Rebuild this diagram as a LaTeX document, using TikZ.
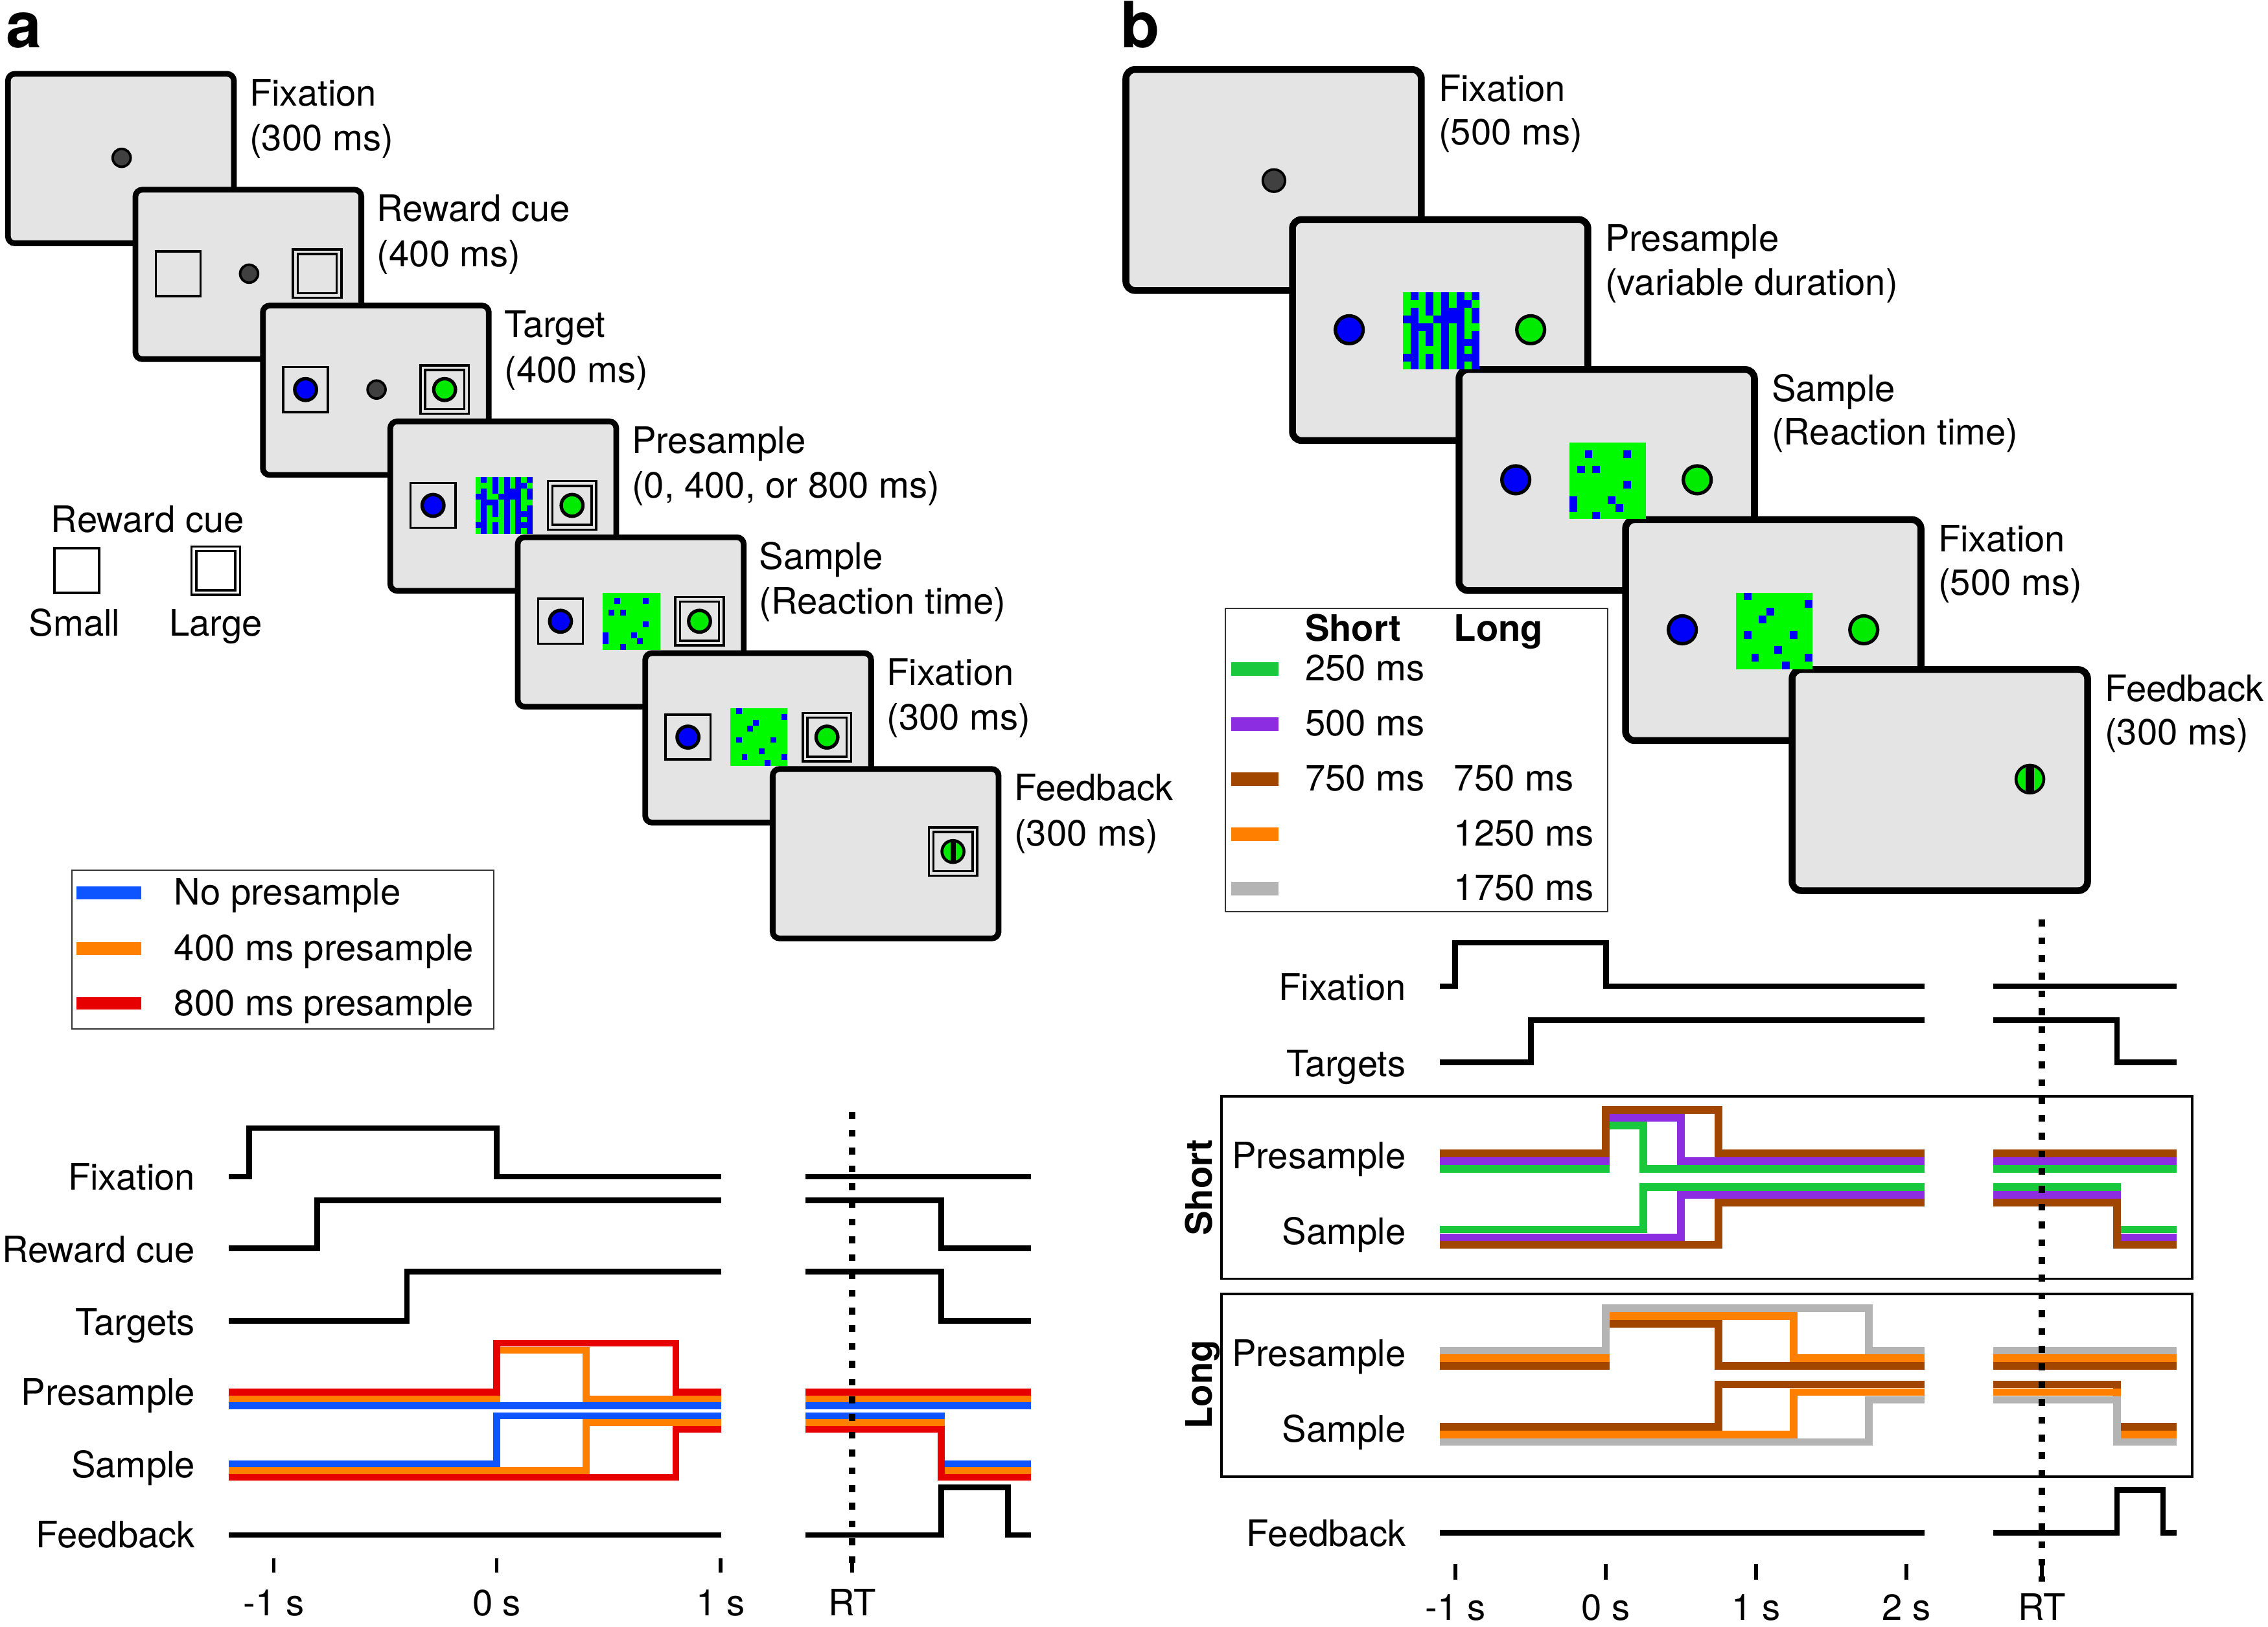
\documentclass[tikz,border=0pt]{standalone}
\usepackage{fontspec}
\setmainfont{TeX Gyre Heros}
\usepackage{tikz}
\usetikzlibrary{positioning}

\definecolor{scrgray}{RGB}{228,228,228}
\definecolor{dotgray}{RGB}{64,64,64}
\definecolor{pblue}{RGB}{0,0,250}
\definecolor{pgreen}{RGB}{0,250,0}
\definecolor{tgreen}{RGB}{0,235,0}
\definecolor{lblue}{RGB}{15,85,255}
\definecolor{lorange}{RGB}{255,128,0}
\definecolor{lred}{RGB}{230,0,0}
\definecolor{sgreen}{RGB}{25,200,60}
\definecolor{spurple}{RGB}{140,45,225}
\definecolor{sbrown}{RGB}{160,70,0}
\definecolor{sgray}{RGB}{180,180,180}

\newcommand{\lblfont}{\fontsize{16}{19}\selectfont}
\newcommand{\fixdot}[3]{\filldraw[fill=dotgray, draw=black, line width=1.1pt] (#1,#2) circle[radius=#3];}
\newcommand{\target}[4]{\filldraw[fill=#4, draw=black, line width=1.5pt] (#1,#2) circle[radius=#3];}
\newcommand{\smallcue}[2]{\draw[cue] ({#1-15.5},{#2-15.5}) rectangle ({#1+15.5},{#2+15.5});}
\newcommand{\largecue}[2]{%
  \draw[cue] ({#1-16.7},{#2-16.7}) rectangle ({#1+16.7},{#2+16.7});
  \draw[cue] ({#1-13.5},{#2-13.5}) rectangle ({#1+13.5},{#2+13.5});}
\newcommand{\presamplepatch}[3]{%
  \fill[pgreen] (#1,#2) rectangle ++({10*#3},{10*#3});
  \foreach \row [count=\rr from 0] in {{0,1,0,1,0,1,0,1,0,1},{0,0,0,1,0,1,0,1,1,0},
      {0,1,0,1,0,1,1,1,0,1},{1,1,0,0,1,1,1,1,0,1},{0,1,1,1,0,1,0,1,0,0},
      {0,1,0,1,0,1,0,1,0,1},{0,1,0,1,0,1,0,1,1,1},{0,1,0,0,0,1,0,1,0,1},
      {1,1,0,1,0,1,0,1,1,1},{0,1,0,1,0,1,0,1,0,1}}{
    \foreach \cell [count=\kk from 0] in \row {
      \ifnum\cell=1 \fill[pblue] ({#1+\kk*#3},{#2+\rr*#3}) rectangle ++(#3,#3);\fi
    }
  }}
\newcommand{\samplepatch}[4]{%
  \fill[pgreen] (#1,#2) rectangle ++({10*#3},{10*#3});
  \foreach \kk/\rr in #4 \fill[pblue] ({#1+\kk*#3},{#2+\rr*#3}) rectangle ++(#3,#3);}
\newcommand{\fbdot}[4]{%
  \begin{scope}
    \clip (#1,#2) circle[radius=#3];
    \fill[tgreen] (#1,#2) circle[radius=#3];
    \fill[black] ({#1-#4/2},{#2-#3}) rectangle ({#1+#4/2},{#2+#3});
  \end{scope}
  \draw[line width=1.3pt] (#1,#2) circle[radius=#3];}
\newcommand{\sampleA}{2/1,7/1,1/3,3/3,7/5,0/7,0/8,5/7,6/8,3/9}
\newcommand{\sampleB}{1/0,9/1,4/2,3/3,1/5,7/5,5/7,2/8,9/8,6/9}

\begin{document}
\begin{tikzpicture}[x=0.02235cm, y=-0.02235cm,
  lbl/.style={font=\lblfont, inner sep=0pt},
  screen/.style={draw=black, fill=scrgray, line width=2.5pt, rounded corners=3pt},
  bscreen/.style={draw=black, fill=scrgray, line width=3pt, rounded corners=4pt},
  cue/.style={draw=black, line width=1pt},
  trace/.style={line width=2.5pt},
  ctrace/.style={line width=3pt},
  dtrace/.style={line width=3.3pt},
  axtick/.style={line width=1.6pt},
  rtline/.style={line width=2.8pt, dash pattern=on 3pt off 4.8pt}]

\useasboundingbox (0,0) rectangle (1566,1123.5);

% Panel letters
\node[lbl, font=\bfseries\fontsize{28}{32}\selectfont, anchor=base west] (pa) at (4,33) {a};
\node[lbl, font=\bfseries\fontsize{28}{32}\selectfont, anchor=base west] (pb) at (773.5,32.8) {b};

% a: screens
\foreach \ta/\tb [count=\i from 0] in {Fixation/(300 ms), Reward cue/(400 ms), Target/(400 ms),
    Presample/{(0, 400, or 800 ms)}, Sample/(Reaction time), Fixation/(300 ms), Feedback/(300 ms)} {
  \draw[screen] ({5.5+88*\i},{51+80*\i}) rectangle ++(156,117);
  \node[lbl, anchor=base west] (sa\i) at ({172+88*\i},{73+80*\i}) {\ta};
  \node[lbl, anchor=base west] (sb\i) at ({172+88*\i},{104+80*\i}) {\tb};
}
\fixdot{84}{109}{6.2}
\smallcue{123}{189} \fixdot{172}{189}{6.2} \largecue{219}{189}
\smallcue{211}{269} \target{211}{269}{7.5}{pblue} \fixdot{260}{269}{6.2}
\largecue{307}{269} \target{307}{269}{7.5}{tgreen}
\smallcue{299}{349} \target{299}{349}{7.5}{pblue} \presamplepatch{328.25}{329.25}{3.95}
\largecue{395}{349} \target{395}{349}{7.5}{tgreen}
\smallcue{387}{429} \target{387}{429}{7.5}{pblue} \samplepatch{416.25}{409.25}{3.95}{\sampleA}
\largecue{483}{429} \target{483}{429}{7.5}{tgreen}
\smallcue{475}{509} \target{475}{509}{7.5}{pblue} \samplepatch{504.25}{489.25}{3.95}{\sampleB}
\largecue{571}{509} \target{571}{509}{7.5}{tgreen}
\largecue{658}{588} \fbdot{658}{588}{7.6}{3.7}

% a: reward cue legend
\node[lbl, anchor=base] (rclab) at (102,367.6) {Reward cue};
\smallcue{53}{394} \largecue{149}{394}
\node[lbl, anchor=base] (rcsmall) at (51.5,439.2) {Small};
\node[lbl, anchor=base] (rclarge) at (149,439.2) {Large};

% a: line legend
\draw[line width=0.6pt, black!80] (49.5,600.7) rectangle (341,710.6);
\foreach \col/\txt/\y [count=\i] in {lblue/No presample/616.6, lorange/400 ms presample/655,
    lred/800 ms presample/693} {
  \fill[\col] (53,{\y-4.3}) rectangle (97.6,{\y+4.3});
  \node[lbl, anchor=base west] (lega\i) at (120,{\y+8.2}) {\txt};
}

% a: timing labels
\foreach \txt/\y [count=\i] in {Fixation/821.8, Reward cue/871.9, Targets/922, Presample/970.3,
    Sample/1020.5, Feedback/1068.8}
  \node[lbl, anchor=base east] (tla\i) at (135,\y) {\txt};

% a: traces
\draw[trace] (158,812.5) -- (172,812.5) -- (172,779) -- (343,779) -- (343,812.5) -- (498,812.5);
\draw[trace] (556,812.5) -- (712,812.5);
\draw[trace] (158,862) -- (219,862) -- (219,829) -- (498,829);
\draw[trace] (556,829) -- (650,829) -- (650,862) -- (712,862);
\draw[trace] (158,912) -- (281,912) -- (281,878) -- (498,878);
\draw[trace] (556,878) -- (650,878) -- (650,912) -- (712,912);
% presample
\draw[ctrace, lblue] (158,970.7) -- (498,970.7) (556,970.7) -- (712,970.7);
\draw[ctrace, lorange] (158,966) -- (343,966) -- (343,932.5) -- (404.8,932.5) -- (404.8,966) -- (498,966)
  (556,966) -- (712,966);
\draw[ctrace, lred] (158,961.3) -- (343,961.3) -- (343,927.5) -- (466.6,927.5) -- (466.6,961.3) -- (498,961.3)
  (556,961.3) -- (712,961.3);
% sample
\draw[ctrace, lblue] (158,1010.7) -- (343,1010.7) -- (343,977.6) -- (498,977.6)
  (556,977.6) -- (650,977.6) -- (650,1010.7) -- (712,1010.7);
\draw[ctrace, lorange] (158,1015.4) -- (404.8,1015.4) -- (404.8,982.3) -- (498,982.3)
  (556,982.3) -- (650,982.3) -- (650,1015.4) -- (712,1015.4);
\draw[ctrace, lred] (158,1020.1) -- (466.6,1020.1) -- (466.6,987) -- (498,987)
  (556,987) -- (650,987) -- (650,1020.1) -- (712,1020.1);
% feedback
\draw[trace] (158,1060) -- (498,1060);
\draw[trace] (556,1060) -- (650,1060) -- (650,1027) -- (696,1027) -- (696,1060) -- (712,1060);

% a: axis
\foreach \x/\txt [count=\i] in {189/-1 s, 343/0 s, 497.6/1 s, 588.5/RT} {
  \draw[axtick] (\x,1076) -- (\x,1086);
  \node[lbl, anchor=base] (tka\i) at (\x,1115.5) {\txt};
}
\draw[rtline] (588.5,768) -- (588.5,1084);

% b: screens
\foreach \ta/\tb [count=\i from 0] in {Fixation/(500 ms), Presample/(variable duration),
    Sample/(Reaction time), Fixation/(500 ms), Feedback/(300 ms)} {
  \draw[bscreen] ({777.4+115*\i},{48+103.6*\i}) rectangle ++(204,152.6);
  \node[lbl, anchor=base west] (sc\i) at ({993+115*\i},{70+103.6*\i}) {\ta};
  \node[lbl, anchor=base west] (sd\i) at ({993+115*\i},{100+103.6*\i}) {\tb};
}
\fixdot{879.6}{124.7}{7.7}
\target{931.6}{227.7}{9.6}{pblue} \presamplepatch{968.6}{202}{5.3} \target{1056.9}{227.7}{9.6}{tgreen}
\target{1046.6}{331.3}{9.6}{pblue} \samplepatch{1083.6}{305.6}{5.3}{\sampleA} \target{1171.9}{331.3}{9.6}{tgreen}
\target{1161.6}{434.9}{9.6}{pblue} \samplepatch{1198.6}{409.2}{5.3}{\sampleB} \target{1286.9}{434.9}{9.6}{tgreen}
\fbdot{1401.6}{538}{9.6}{5.5}

% b: legend
\draw[line width=0.6pt, black!80] (846,420) rectangle (1110,629.4);
\node[lbl, font=\bfseries\lblfont, anchor=base west] (lshort) at (900.8,442.6) {Short};
\node[lbl, font=\bfseries\lblfont, anchor=base west] (llong) at (1003.6,442.6) {Long};
\foreach \col/\ts/\tl/\y [count=\i] in {sgreen/250 ms/{}/462, spurple/500 ms/{}/500,
    sbrown/750 ms/750 ms/538, lorange/{}/1250 ms/576, sgray/{}/1750 ms/613.8} {
  \fill[\col] (850,{\y-4.7}) rectangle (882.8,{\y+4.7});
  \node[lbl, anchor=base west] (legs\i) at (900.8,{\y+8}) {\ts};
  \node[lbl, anchor=base west] (legl\i) at (1003.6,{\y+8}) {\tl};
}

% b: group boxes
\draw[line width=1.1pt] (843.3,757) rectangle (1513.6,883);
\draw[line width=1.1pt] (843.3,893.6) rectangle (1513.6,1019.5);
\node[lbl, font=\bfseries\lblfont, rotate=90, anchor=base] (gshort) at (837,820) {Short};
\node[lbl, font=\bfseries\lblfont, rotate=90, anchor=base] (glong) at (837,956) {Long};

% b: timing labels
\foreach \txt/\y [count=\i] in {Fixation/690.7, Targets/743.6, Presample/807, Sample/859.4,
    Presample/943.4, Sample/995.7, Feedback/1068}
  \node[lbl, anchor=base east] (tlb\i) at (971,\y) {\txt};

% b: traces
\draw[trace] (994.3,681) -- (1004.6,681) -- (1004.6,651) -- (1108.8,651) -- (1108.8,681) -- (1329,681);
\draw[trace] (1376.4,681) -- (1503,681);
\draw[trace] (994.3,733.5) -- (1057,733.5) -- (1057,704.4) -- (1329,704.4);
\draw[trace] (1376.4,704.4) -- (1461.7,704.4) -- (1461.7,733.5) -- (1503,733.5);
% short presample
\draw[dtrace, sgreen] (994.3,807.1) -- (1108.8,807.1) -- (1108.8,777.1) -- (1134.7,777.1) -- (1134.7,807.1)
  -- (1329,807.1) (1376.4,807.1) -- (1503,807.1);
\draw[dtrace, spurple] (994.3,801.8) -- (1108.8,801.8) -- (1108.8,771.8) -- (1160.7,771.8) -- (1160.7,801.8)
  -- (1329,801.8) (1376.4,801.8) -- (1503,801.8);
\draw[dtrace, sbrown] (994.3,796.5) -- (1108.8,796.5) -- (1108.8,766.5) -- (1186.6,766.5) -- (1186.6,796.5)
  -- (1329,796.5) (1376.4,796.5) -- (1503,796.5);
% short sample
\draw[dtrace, sgreen] (994.3,849) -- (1134.7,849) -- (1134.7,819.8) -- (1329,819.8)
  (1376.4,819.8) -- (1461.7,819.8) -- (1461.7,849) -- (1503,849);
\draw[dtrace, spurple] (994.3,854.3) -- (1160.7,854.3) -- (1160.7,825.1) -- (1329,825.1)
  (1376.4,825.1) -- (1461.7,825.1) -- (1461.7,854.3) -- (1503,854.3);
\draw[dtrace, sbrown] (994.3,859.6) -- (1186.6,859.6) -- (1186.6,830.4) -- (1329,830.4)
  (1376.4,830.4) -- (1461.7,830.4) -- (1461.7,859.6) -- (1503,859.6);
% long presample
\draw[dtrace, sbrown] (994.3,943.2) -- (1108.8,943.2) -- (1108.8,914) -- (1186.6,914) -- (1186.6,943.2)
  -- (1329,943.2) (1376.4,943.2) -- (1503,943.2);
\draw[dtrace, lorange] (994.3,937.9) -- (1108.8,937.9) -- (1108.8,908.7) -- (1238.4,908.7) -- (1238.4,937.9)
  -- (1329,937.9) (1376.4,937.9) -- (1503,937.9);
\draw[dtrace, sgray] (994.3,932.6) -- (1108.8,932.6) -- (1108.8,903.4) -- (1290.3,903.4) -- (1290.3,932.6)
  -- (1329,932.6) (1376.4,932.6) -- (1503,932.6);
% long sample
\draw[dtrace, sbrown] (994.3,985.2) -- (1186.6,985.2) -- (1186.6,956) -- (1329,956)
  (1376.4,956) -- (1461.7,956) -- (1461.7,985.2) -- (1503,985.2);
\draw[dtrace, lorange] (994.3,990.5) -- (1238.4,990.5) -- (1238.4,961.3) -- (1329,961.3)
  (1376.4,961.3) -- (1461.7,961.3) -- (1461.7,990.5) -- (1503,990.5);
\draw[dtrace, sgray] (994.3,995.8) -- (1290.3,995.8) -- (1290.3,966.6) -- (1329,966.6)
  (1376.4,966.6) -- (1461.7,966.6) -- (1461.7,995.8) -- (1503,995.8);
% feedback
\draw[trace] (994.3,1058.5) -- (1329,1058.5);
\draw[trace] (1376.4,1058.5) -- (1461.7,1058.5) -- (1461.7,1029) -- (1493.5,1029) -- (1493.5,1058.5) -- (1503,1058.5);

% b: axis
\foreach \x/\txt [count=\i] in {1005/-1 s, 1108.8/0 s, 1212.5/1 s, 1316.3/2 s, 1409.8/RT} {
  \draw[axtick] (\x,1080) -- (\x,1091);
  \node[lbl, anchor=base] (tkb\i) at (\x,1119) {\txt};
}
\draw[rtline] (1409.8,635) -- (1409.8,1092);

\end{tikzpicture}
\end{document}
